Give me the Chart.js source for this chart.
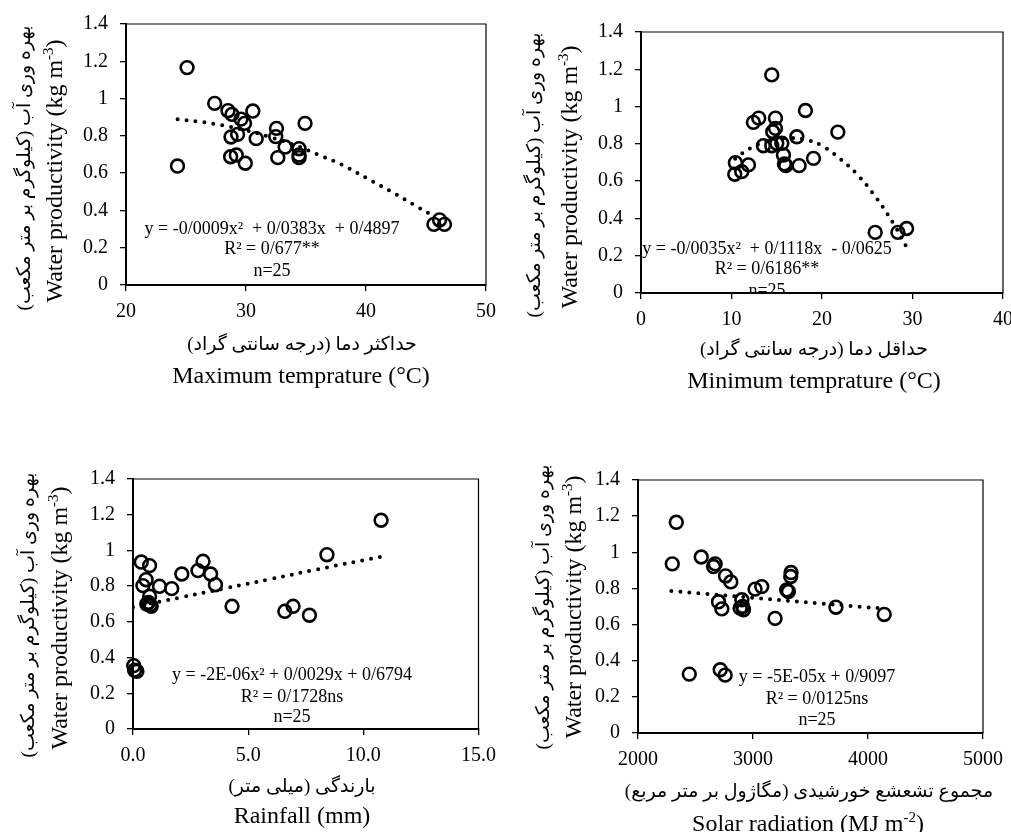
<!DOCTYPE html>
<html>
<head>
<meta charset="utf-8">
<title>Water productivity</title>
<script src="https://cdn.jsdelivr.net/npm/chart.js@4"></script>
<style>
body { margin: 0; background: #fff; width: 1011px; height: 832px; position: relative; overflow: hidden; font-family: 'Liberation Serif', serif; color: #000; }
canvas { position: absolute; }
.t { position: absolute; white-space: nowrap; transform: translate(-50%, -50%); line-height: 1; }
.rot { transform: translate(-50%, -50%) rotate(-90deg); }
.fa { font-family: 'Liberation Serif', 'DejaVu Sans', serif; font-size: 19px; }
.en { font-size: 24px; }
.en sup { font-size: 15px; }
.note { position: absolute; overflow: hidden; }
.note div { position: absolute; white-space: nowrap; transform: translate(-50%, -50%); font-size: 18px; line-height: 1; }
</style>
</head>
<body>
<canvas id="c1" width="505" height="420" style="left:0;top:0"></canvas>
<canvas id="c2" width="530" height="420" style="left:500px;top:0"></canvas>
<canvas id="c3" width="505" height="412" style="left:0;top:420px"></canvas>
<canvas id="c4" width="530" height="412" style="left:500px;top:420px"></canvas>

<div class="t rot fa" dir="rtl" style="left:23px;top:168px">بهره وری آب (کیلوگرم بر متر مکعب)</div>
<div class="t rot en" style="left:53px;top:171px">Water productivity (kg m<sup>-3</sup>)</div>
<div class="t fa" dir="rtl" style="left:302px;top:343px">حداکثر دما (درجه سانتی گراد)</div>
<div class="t en" style="left:301px;top:375px">Maximum temprature (°C)</div>

<div class="t rot fa" dir="rtl" style="left:533px;top:175px">بهره وری آب (کیلوگرم بر متر مکعب)</div>
<div class="t rot en" style="left:568px;top:177px">Water productivity (kg m<sup>-3</sup>)</div>
<div class="t fa" dir="rtl" style="left:814px;top:348px">حداقل دما (درجه سانتی گراد)</div>
<div class="t en" style="left:814px;top:380px">Minimum temprature (°C)</div>

<div class="t rot fa" dir="rtl" style="left:27px;top:615px">بهره وری آب (کیلوگرم بر متر مکعب)</div>
<div class="t rot en" style="left:58px;top:618px">Water productivity (kg m<sup>-3</sup>)</div>
<div class="t fa" dir="rtl" style="left:302px;top:785px">بارندگی (میلی متر)</div>
<div class="t en" style="left:302px;top:815px">Rainfall (mm)</div>

<div class="t rot fa" dir="rtl" style="left:542px;top:607px">بهره وری آب (کیلوگرم بر متر مکعب)</div>
<div class="t rot en" style="left:572px;top:607px">Water productivity (kg m<sup>-3</sup>)</div>
<div class="t fa" dir="rtl" style="left:809px;top:790px">مجموع تشعشع خورشیدی (مگاژول بر متر مربع)</div>
<div class="t en" style="left:808px;top:822px">Solar radiation (MJ m<sup>-2</sup>)</div>

<div class="note" style="left:126px;top:24px;width:361px;height:261px">
  <div style="left:146px;top:204px">y = -0/0009x² &nbsp;+ 0/0383x &nbsp;+ 0/4897</div>
  <div style="left:146px;top:224px">R² = 0/677**</div>
  <div style="left:146px;top:246px">n=25</div>
</div>
<div class="note" style="left:641px;top:32px;width:362px;height:261px">
  <div style="left:126px;top:216px">y = -0/0035x² &nbsp;+ 0/1118x &nbsp;- 0/0625</div>
  <div style="left:126px;top:236px">R² = 0/6186**</div>
  <div style="left:126px;top:258px">n=25</div>
</div>
<div class="note" style="left:133px;top:479px;width:349px;height:250px">
  <div style="left:159px;top:195px">y = -2E-06x² + 0/0029x + 0/6794</div>
  <div style="left:159px;top:217px">R² = 0/1728ns</div>
  <div style="left:159px;top:237px">n=25</div>
</div>
<div class="note" style="left:638px;top:480px;width:345px;height:253px">
  <div style="left:179px;top:196px">y = -5E-05x + 0/9097</div>
  <div style="left:179px;top:218px">R² = 0/0125ns</div>
  <div style="left:179px;top:239px">n=25</div>
</div>

<script>
// water productivity (kg m-3), shared y ticks
const yTickLabels = ['0', '0.2', '0.4', '0.6', '0.8', '1', '1.2', '1.4'];

// maximum temperature
const maxTempX = [25.09, 24.29, 27.39, 28.50, 28.83, 29.58, 29.88, 30.57, 28.75, 29.30, 28.72, 29.19, 29.94,
    30.85, 32.54, 32.48, 32.65, 33.26, 34.42, 34.42, 34.42, 34.92, 45.66, 46.13, 46.54];
const maxTempY = [1.166, 0.638, 0.974, 0.935, 0.915, 0.890, 0.867, 0.933, 0.794, 0.808, 0.688, 0.697, 0.653,
    0.785, 0.840, 0.796, 0.683, 0.740, 0.731, 0.697, 0.683, 0.867, 0.325, 0.349, 0.325];
const maxTempFitX = [24.3, 26, 28, 30, 32, 34, 36, 38, 40, 42, 44, 45.5];
const maxTempFitY = [0.889, 0.877, 0.857, 0.829, 0.794, 0.752, 0.700, 0.645, 0.575, 0.505, 0.430, 0.375];
const maxTempTicks = ['20', '30', '40', '50'];

// minimum temperature
const minTempX = [14.45, 10.36, 10.43, 11.13, 11.87, 12.42, 13.01, 13.53, 14.45, 14.86, 14.86, 14.56, 15.00,
    15.56, 15.74, 15.85, 16.00, 17.22, 17.47, 18.17, 19.06, 21.75, 25.88, 28.39, 29.35];
const minTempY = [1.170, 0.637, 0.699, 0.651, 0.687, 0.915, 0.938, 0.790, 0.790, 0.938, 0.883, 0.865, 0.803,
    0.803, 0.740, 0.692, 0.683, 0.838, 0.683, 0.979, 0.722, 0.863, 0.325, 0.325, 0.346];
const minTempFitX = [10.4, 12, 14, 16, 18, 20, 22, 24, 26, 28, 29.3];
const minTempFitY = [0.72, 0.775, 0.815, 0.83, 0.825, 0.79, 0.72, 0.63, 0.51, 0.365, 0.25];
const minTempTicks = ['0', '10', '20', '30', '40'];

// rainfall
const rainX = [10.77, 8.42, 0.36, 0.72, 0.57, 0.43, 1.15, 1.68, 2.12, 2.82, 3.04, 3.37, 3.58,
    4.30, 6.59, 6.95, 7.66, 0.72, 0.67, 0.79, 0.60, 0.75, 0.03, 0.07, 0.17];
const rainY = [1.169, 0.976, 0.935, 0.915, 0.836, 0.803, 0.799, 0.786, 0.868, 0.887, 0.939, 0.868, 0.808,
    0.687, 0.659, 0.687, 0.637, 0.743, 0.709, 0.687, 0.700, 0.695, 0.355, 0.329, 0.323];
const rainFitX = [0, 2, 4, 6, 8, 10.8];
const rainFitY = [0.682, 0.735, 0.788, 0.84, 0.894, 0.966];
const rainTicks = ['0.0', '5.0', '10.0', '15.0'];

// solar radiation
const solarX = [2333, 2298, 2550, 2671, 2657, 2761, 2807, 2700, 2729, 2903, 2888, 2917, 2910,
    3018, 3076, 3192, 3293, 3308, 3331, 3328, 3721, 4141, 2446, 2715, 2758];
const solarY = [1.166, 0.936, 0.974, 0.936, 0.921, 0.869, 0.836, 0.726, 0.687, 0.737, 0.691, 0.682, 0.700,
    0.796, 0.810, 0.634, 0.792, 0.783, 0.888, 0.866, 0.696, 0.656, 0.326, 0.350, 0.320];
const solarFitX = [2290, 4140];
const solarFitY = [0.786, 0.688];
const solarTicks = ['2000', '3000', '4000', '5000'];

function pairs(xs, ys) {
    return xs.map((x, i) => ({ x: x, y: ys[i] }));
}

// thin top/right frame of the plot box
const frame = {
    id: 'frame',
    afterDraw(chart) {
        const a = chart.chartArea;
        const ctx = chart.ctx;
        ctx.save();
        ctx.strokeStyle = '#000';
        ctx.lineWidth = 1.2;
        ctx.beginPath();
        ctx.moveTo(a.left, a.top);
        ctx.lineTo(a.right, a.top);
        ctx.lineTo(a.right, a.bottom);
        ctx.stroke();
        ctx.restore();
    }
};

function makePanel(id, box, area, xs, ys, fitX, fitY, xMin, xMax, xStep, xTicks) {
    const yW = 50, xH = 40;
    const tickFont = { family: 'Liberation Serif', size: 20 };
    new Chart(document.getElementById(id), {
        type: 'scatter',
        data: {
            datasets: [{
                data: pairs(xs, ys),
                pointStyle: 'circle',
                pointRadius: 6.4,
                pointHoverRadius: 6.4,
                borderColor: '#000',
                borderWidth: 2.6,
                backgroundColor: 'rgba(0,0,0,0)',
                clip: false,
            }, {
                type: 'line',
                data: pairs(fitX, fitY),
                borderColor: '#000',
                borderWidth: 4,
                borderDash: [0, 9],
                borderCapStyle: 'round',
                pointRadius: 0,
                tension: 0.4,
                fill: false,
            }],
        },
        options: {
            responsive: false,
            animation: false,
            events: [],
            layout: {
                padding: {
                    left: area.l - box.l - yW,
                    right: box.l + box.w - area.r,
                    top: area.t - box.t,
                    bottom: box.t + box.h - area.b - xH,
                },
            },
            plugins: { legend: { display: false }, tooltip: { enabled: false } },
            scales: {
                x: {
                    type: 'linear',
                    min: xMin,
                    max: xMax,
                    afterFit: s => { s.height = xH; },
                    ticks: {
                        stepSize: xStep,
                        color: '#000',
                        font: tickFont,
                        padding: 9,
                        maxRotation: 0,
                        callback: (v, i) => xTicks[i],
                    },
                    grid: { display: true, drawOnChartArea: false, color: '#000', lineWidth: 1.3, tickLength: 6 },
                    border: { display: true, color: '#000', width: 2 },
                },
                y: {
                    min: 0,
                    max: 1.4,
                    afterFit: s => { s.width = yW; },
                    ticks: {
                        stepSize: 0.2,
                        color: '#000',
                        font: tickFont,
                        padding: 12,
                        callback: (v, i) => yTickLabels[i],
                    },
                    grid: { display: true, drawOnChartArea: false, color: '#000', lineWidth: 1.3, tickLength: 6 },
                    border: { display: true, color: '#000', width: 2 },
                },
            },
        },
        plugins: [frame],
    });
}

makePanel('c1', { l: 0, t: 0, w: 505, h: 420 }, { l: 126, r: 487, t: 24, b: 285 },
    maxTempX, maxTempY, maxTempFitX, maxTempFitY, 20, 50, 10, maxTempTicks);
makePanel('c2', { l: 500, t: 0, w: 530, h: 420 }, { l: 641, r: 1003, t: 32, b: 293 },
    minTempX, minTempY, minTempFitX, minTempFitY, 0, 40, 10, minTempTicks);
makePanel('c3', { l: 0, t: 420, w: 505, h: 412 }, { l: 133, r: 482, t: 479, b: 729 },
    rainX, rainY, rainFitX, rainFitY, 0, 15, 5, rainTicks);
makePanel('c4', { l: 500, t: 420, w: 530, h: 412 }, { l: 638, r: 983, t: 480, b: 733 },
    solarX, solarY, solarFitX, solarFitY, 2000, 5000, 1000, solarTicks);
</script>
</body>
</html>
